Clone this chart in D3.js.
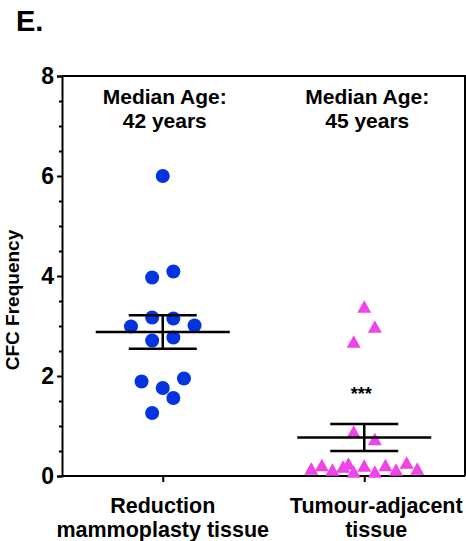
<!DOCTYPE html>
<html>
<head>
<meta charset="utf-8">
<script src="https://cdn.jsdelivr.net/npm/d3@7"></script>
<style>
  html, body { margin: 0; padding: 0; background: #fff; }
  svg { display: block; font-family: "Liberation Sans", Arial, sans-serif; }
</style>
</head>
<body>
<svg id="chart" width="466" height="541"></svg>
<script>
// ---- data ----
const categories = ["Reduction mammoplasty tissue", "Tumour-adjacent tissue"];
const categoryLines = [["Reduction", "mammoplasty tissue"], ["Tumour-adjacent", "tissue"]];
const medianLabels = [["Median Age:", "42 years"], ["Median Age:", "45 years"]];

const reductionValues = [6.0, 3.97, 4.09, 3.17, 3.15, 2.99, 3.01, 2.71, 2.77, 1.89, 1.95, 1.76, 1.56, 1.26];
const reductionJitter = [0, -1, 1, -1, 1, -3, 3, -1, 1, -2, 2, 0, 1, -1];

const tumourValues = [3.39, 2.99, 2.69, 0.89, 0.74, 0.15, 0.22, 0.13, 0.19, 0.25, 0.09, 0.21, 0.09, 0.22, 0.13, 0.27, 0.15];
const tumourJitter = [0, 1, -1, -1, 1, -5, -4, -3, -2, -1.5, -1, 0, 1, 2, 3, 4, 5];

const groupMeans = [2.88, 0.77];
const groupSEM = [0.335, 0.27];
const significance = ["", "***"];
const significanceY = [null, 1.72];

const yTicks = [0, 2, 4, 6, 8];
const yMinorTicks = [0.5, 1, 1.5, 2.5, 3, 3.5, 4.5, 5, 5.5, 6.5, 7, 7.5];

// ---- layout ----
const svg = d3.select("#chart");
const mLeft = 62, mRight = 465, mTop = 76, mBottom = 476;

const y = d3.scaleLinear().domain([0, 8]).range([mBottom, mTop]);
const x = d3.scalePoint().domain(categories).range([mLeft, mRight]).padding(0.5);
const jit = d3.scaleLinear().domain([0, 1]).range([0, 10.6]);

// title letter
svg.append("text").attr("x", 16).attr("y", 31)
  .attr("font-size", 29).attr("font-weight", "bold").text("E.");

// frame (top & right)
svg.append("path")
  .attr("d", `M${mLeft},${mTop}H${mRight}V${mBottom}`)
  .attr("fill", "none").attr("stroke", "#000").attr("stroke-width", 2);

// y axis
const yAxis = d3.axisLeft(y).tickValues(yTicks).tickSize(5).tickPadding(3).tickFormat(d3.format("d"));
const gy = svg.append("g").attr("transform", `translate(${mLeft},0)`).call(yAxis);
gy.select(".domain").attr("stroke-width", 2);
gy.selectAll(".tick line").attr("stroke-width", 2);
gy.selectAll(".tick text").attr("font-size", 23).attr("font-weight", "bold")
  .attr("font-family", "Liberation Sans, Arial, sans-serif").attr("fill", "#000");
const yMinor = d3.axisLeft(y).tickValues(yMinorTicks).tickSize(3).tickFormat("");
const gym = svg.append("g").attr("transform", `translate(${mLeft},0)`).call(yMinor);
gym.select(".domain").remove();
gym.selectAll(".tick line").attr("stroke-width", 2);

// x axis
const xAxis = d3.axisBottom(x).tickSize(6).tickFormat("");
const gx = svg.append("g").attr("transform", `translate(0,${mBottom})`).call(xAxis);
gx.select(".domain").attr("stroke-width", 2).attr("d", `M${mLeft},0H${mRight}`);
gx.selectAll(".tick line").attr("stroke-width", 2);

// category labels (one text element per line)
categoryLines.forEach((lines, i) => {
  lines.forEach((ln, j) => {
    svg.append("text").attr("text-anchor", "middle")
      .attr("font-size", 21.5).attr("font-weight", "bold")
      .attr("x", x(categories[i]) + (i === 1 ? 12 : 0)).attr("y", 513 + j * 24).text(ln);
  });
});

// y label
svg.append("text")
  .attr("transform", `translate(19,300) rotate(-90)`)
  .attr("text-anchor", "middle").attr("font-size", 19).attr("font-weight", "bold")
  .text("CFC Frequency");

// median age labels
medianLabels.forEach((lines, i) => {
  lines.forEach((ln, j) => {
    svg.append("text").attr("text-anchor", "middle")
      .attr("font-size", 21).attr("font-weight", "bold")
      .attr("x", x(categories[i]) + (i === 1 ? 3 : 2)).attr("y", 104 + j * 24).text(ln);
  });
});

// blue circles
svg.append("g").selectAll("circle")
  .data(reductionValues)
  .join("circle")
  .attr("cx", (d, i) => x(categories[0]) + jit(reductionJitter[i]))
  .attr("cy", d => y(d))
  .attr("r", 7)
  .attr("fill", "#0433e0");

// pink triangles (bounding box centred on the value)
const triW = 14, triH = 12.5;
svg.append("g").selectAll("path")
  .data(tumourValues)
  .join("path")
  .attr("d", (d, i) => {
    const cx = x(categories[1]) + jit(tumourJitter[i]);
    const cy = y(d);
    return `M${cx},${cy - triH / 2}L${cx + triW / 2},${cy + triH / 2}L${cx - triW / 2},${cy + triH / 2}Z`;
  })
  .attr("fill", "#ee44e8");

// mean & SEM
const meanHalf = 67, capHalf = 34;
groupMeans.forEach((m, i) => {
  const cx = x(categories[i]);
  const g = svg.append("g").attr("stroke", "#000").attr("stroke-width", 2.5).attr("fill", "none");
  g.append("line").attr("x1", cx - meanHalf).attr("x2", cx + meanHalf).attr("y1", y(m)).attr("y2", y(m));
  g.append("line").attr("x1", cx).attr("x2", cx).attr("y1", y(m + groupSEM[i])).attr("y2", y(m - groupSEM[i]));
  g.append("line").attr("x1", cx - capHalf).attr("x2", cx + capHalf).attr("y1", y(m + groupSEM[i])).attr("y2", y(m + groupSEM[i]));
  g.append("line").attr("x1", cx - capHalf).attr("x2", cx + capHalf).attr("y1", y(m - groupSEM[i])).attr("y2", y(m - groupSEM[i]));
});

// significance
significance.forEach((s, i) => {
  if (!s) return;
  svg.append("text").attr("x", x(categories[i]) - 3).attr("y", y(significanceY[i]) + 10)
    .attr("text-anchor", "middle").attr("font-size", 18).attr("font-weight", "bold").text(s);
});
</script>
</body>
</html>
